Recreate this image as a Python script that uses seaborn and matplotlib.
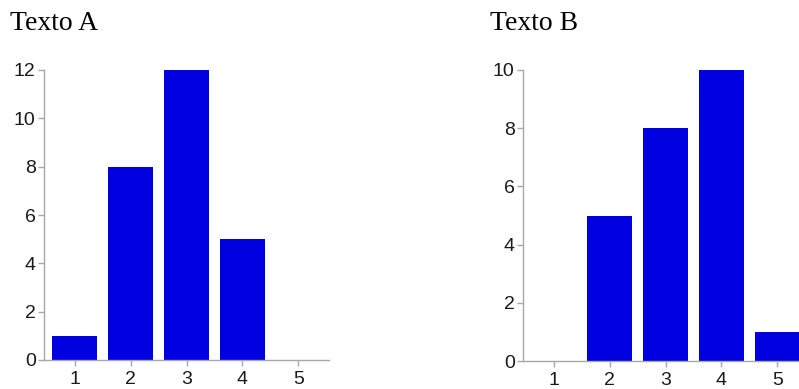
import matplotlib
matplotlib.use("Agg")
import matplotlib.pyplot as plt
import pandas as pd
import seaborn as sns

# Datos
categorias = ["1", "2", "3", "4", "5"]
valores_a = [1, 8, 12, 5, 0]
valores_b = [0, 5, 8, 10, 1]
titulos = ["Texto A", "Texto B"]
ticks_a = [0, 2, 4, 6, 8, 10, 12]
ticks_b = [0, 2, 4, 6, 8, 10]

sns.set_style("white")
plt.rcParams["font.family"] = ["Liberation Sans", "DejaVu Sans"]

fig = plt.figure(figsize=(7.99, 3.89), dpi=100)

paneles = [
    (valores_a, ticks_a, [44 / 799, 29 / 389, 285 / 799, 290 / 389], 10 / 799),
    (valores_b, ticks_b, [523 / 799, 28 / 389, 285 / 799, 291 / 389], 490 / 799),
]

for (valores, ticks, pos, x_tit), titulo in zip(paneles, titulos):
    ax = fig.add_axes(pos)
    df = pd.DataFrame({"cat": categorias, "n": valores})
    sns.barplot(data=df, x="cat", y="n", order=categorias, color="#0000e0",
                saturation=1, width=0.8, linewidth=0, ax=ax)
    ax.set_xlim(-0.55, 4.55)
    ax.set_ylim(0, ticks[-1])
    ax.set_yticks(ticks)
    ax.set_xlabel("")
    ax.set_ylabel("")
    for lado in ["top", "right"]:
        ax.spines[lado].set_visible(False)
    for lado in ["left", "bottom"]:
        ax.spines[lado].set_color("#a8a8a8")
        ax.spines[lado].set_linewidth(1.0)
    ax.tick_params(axis="both", which="both", direction="out", length=4,
                   width=1.0, color="#a8a8a8", labelcolor="#1a1a1a",
                   labelsize=14, pad=2, left=True, bottom=True)
    ax.tick_params(axis="x", pad=4)
    fig.text(x_tit, 1 - 23 / 389, titulo, family=["Liberation Serif", "DejaVu Serif"],
             fontsize=20, va="center", ha="left", color="black")

fig.savefig("out.png", dpi=100)
